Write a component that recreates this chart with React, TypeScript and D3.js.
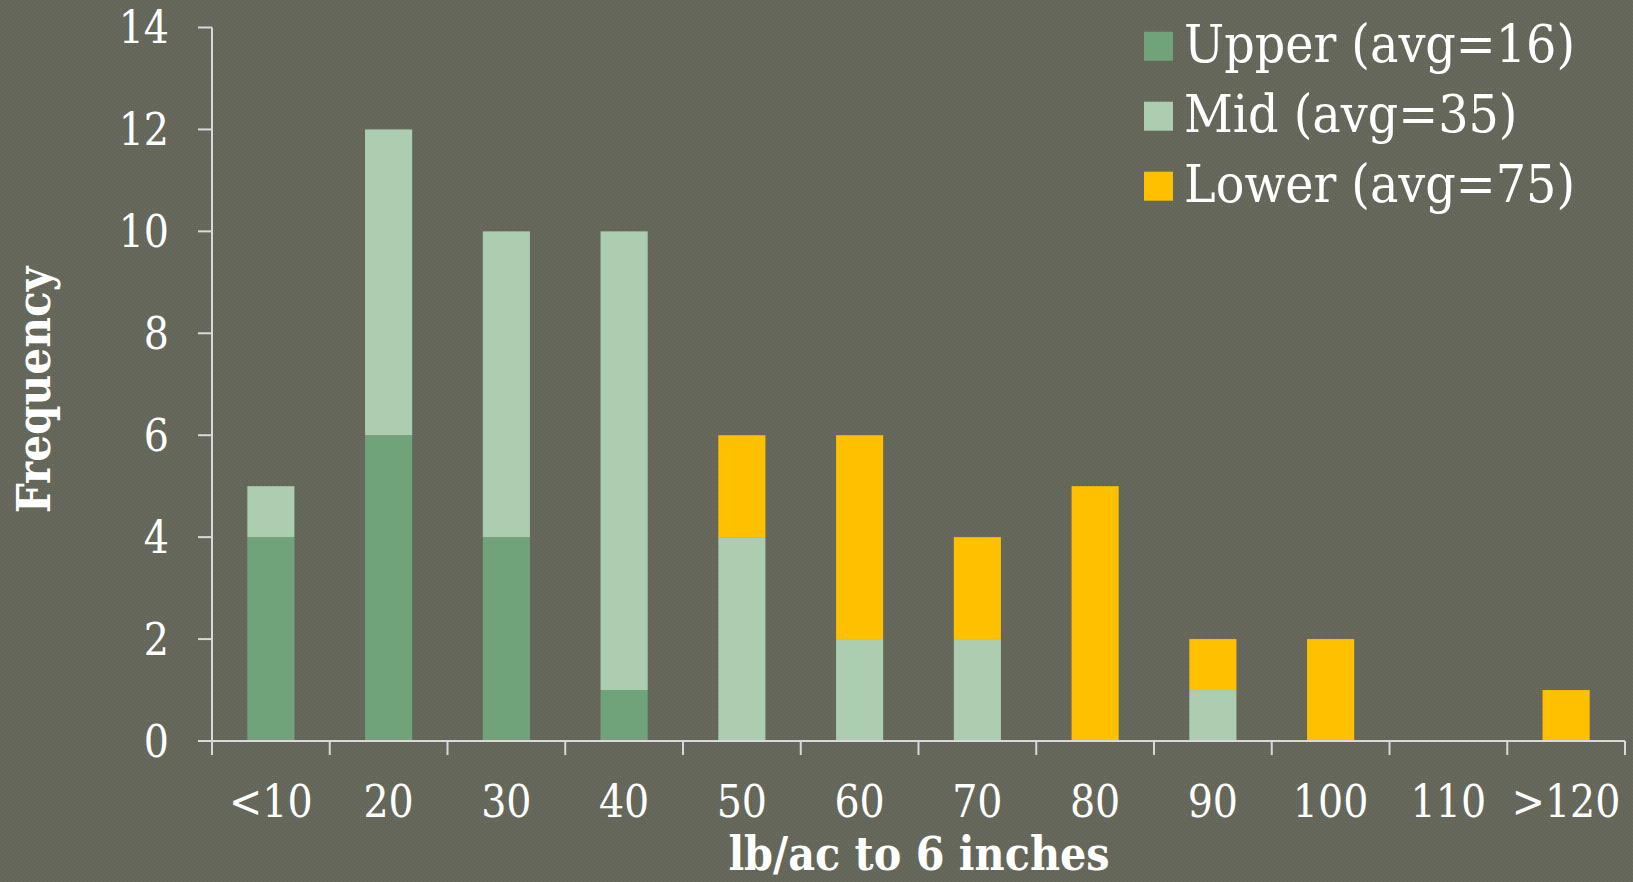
import React from "react";
import * as d3 from "d3";

const categories = ["<10", "20", "30", "40", "50", "60", "70", "80", "90", "100", "110", ">120"];
const upperValues = [4, 6, 4, 1, 0, 0, 0, 0, 0, 0, 0, 0];
const midValues = [1, 6, 6, 9, 4, 2, 2, 0, 1, 0, 0, 0];
const lowerValues = [0, 0, 0, 0, 2, 4, 2, 5, 1, 2, 0, 1];
const seriesNames = ["Upper (avg=16)", "Mid (avg=35)", "Lower (avg=75)"];
const seriesColors = ["#71a37a", "#adcdb1", "#ffc000"];
const yTicks = [0, 2, 4, 6, 8, 10, 12, 14];

const W = 1633;
const H = 882;
const FONT = "'DejaVu Serif Condensed', 'DejaVu Serif', serif";

export default function App() {
  const left = 212;
  const right = 1625;
  const top = 27.5;
  const bottom = 741;

  const x = d3
    .scaleBand<string>()
    .domain(categories)
    .range([left, right])
    .paddingInner(0.6)
    .paddingOuter(0.3);
  const y = d3.scaleLinear().domain([0, 14]).range([bottom, top]);

  const rows = categories.map((c, i) => ({
    cat: c,
    upper: upperValues[i],
    mid: midValues[i],
    lower: lowerValues[i],
  }));
  const stacked = d3.stack<any>().keys(["upper", "mid", "lower"])(rows);

  const step = x.step();
  const boundaries = d3.range(categories.length + 1).map((i) => left + i * step);

  return (
    <div style={{ position: "absolute", left: 0, top: 0 }}>
      <svg width={W} height={H} style={{ display: "block" }}>
        <defs>
          <pattern id="grain" width="4" height="4" patternUnits="userSpaceOnUse">
            <rect width="4" height="4" fill="#65675a" />
            <rect x="0" y="0" width="1" height="1" fill="#6c6e61" />
            <rect x="2" y="2" width="1" height="1" fill="#6c6e61" />
            <rect x="1" y="3" width="1" height="1" fill="#5f6154" />
            <rect x="3" y="1" width="1" height="1" fill="#5f6154" />
          </pattern>
        </defs>
        <rect width={W} height={H} fill="url(#grain)" />

        {/* stacked bars */}
        {stacked.map((layer, li) => (
          <g key={li} fill={seriesColors[li]}>
            {layer.map((d, i) =>
              d[1] - d[0] > 0 ? (
                <rect
                  key={i}
                  x={x(categories[i])}
                  y={y(d[1])}
                  width={x.bandwidth()}
                  height={y(d[0]) - y(d[1])}
                />
              ) : null
            )}
          </g>
        ))}

        {/* axes */}
        <g stroke="#d9d9d9" strokeWidth={2}>
          <line x1={left} x2={left} y1={top} y2={bottom} />
          <line x1={left} x2={right} y1={bottom} y2={bottom} />
          {yTicks.map((t) => (
            <line key={t} x1={left - 14} x2={left} y1={y(t)} y2={y(t)} />
          ))}
          {boundaries.map((b, i) => (
            <line key={i} x1={b} x2={b} y1={bottom} y2={bottom + 14} />
          ))}
        </g>

        <g fill="#ffffff" fontFamily={FONT} fontSize={44}>
          {yTicks.map((t) => (
            <text key={t} x={169} y={y(t)} textAnchor="end" dominantBaseline="central">
              {t}
            </text>
          ))}
          {categories.map((c) => (
            <text key={c} x={(x(c) as number) + x.bandwidth() / 2} y={817} textAnchor="middle">
              {c}
            </text>
          ))}
        </g>

        <text
          x={919}
          y={870}
          textAnchor="middle"
          fill="#ffffff"
          fontFamily={FONT}
          fontWeight="bold"
          fontSize={46}
        >
          lb/ac to 6 inches
        </text>
        <text
          transform="translate(50,390) rotate(-90)"
          textAnchor="middle"
          fill="#ffffff"
          fontFamily={FONT}
          fontWeight="bold"
          fontSize={47}
        >
          Frequency
        </text>

        {/* legend */}
        <g fontFamily={FONT} fontSize={53} fill="#ffffff">
          {seriesNames.map((n, i) => (
            <g key={n} transform={`translate(1144, ${31.7 + i * 70})`}>
              <rect width={29} height={29} fill={seriesColors[i]} />
              <text x={40} y={30}>
                {n}
              </text>
            </g>
          ))}
        </g>
      </svg>
    </div>
  );
}
